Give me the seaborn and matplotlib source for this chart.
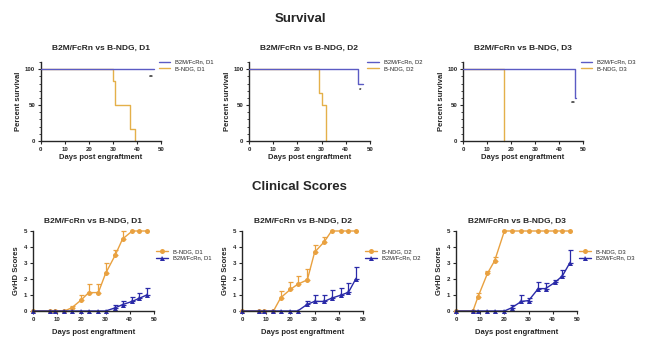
import matplotlib
matplotlib.use("Agg")
import matplotlib.pyplot as plt
from matplotlib.ticker import MultipleLocator
import seaborn as sns
import pandas as pd
import numpy as np

# ---- survival data (step curves) ----
surv_b2m_days = [[0, 47], [0, 45, 47], [0, 46.5, 47]]
surv_b2m_pct = [[100, 100], [100, 80, 80], [100, 60, 60]]
surv_ndg_days = [[0, 30, 31, 37, 39], [0, 29, 30, 32], [0, 17]]
surv_ndg_pct = [[100, 83, 50, 17, 0], [100, 67, 50, 0], [100, 0]]
sig_text = ["**", "*", "**"]
sig_pos = [(46, 88), (46, 70), (46, 52)]

# ---- clinical scores ----
days = [0, 7, 9, 13, 16, 20, 23, 27, 30, 34, 37, 41, 44, 47]
ndg_mean = [
    [0, 0, 0, 0, 0.2, 0.7, 1.15, 1.15, 2.35, 3.5, 4.5, 5, 5, 5],
    [0, 0, 0, 0, 0.83, 1.35, 1.67, 1.95, 3.67, 4.33, 5, 5, 5, 5],
    [0, 0, 0.85, 2.35, 3.15, 5, 5, 5, 5, 5, 5, 5, 5, 5],
]
ndg_upper = [
    [0, 0, 0, 0, 0.3, 1.0, 1.7, 1.7, 3.0, 3.8, 5.0, 5, 5, 5],
    [0, 0, 0, 0, 1.25, 1.8, 2.2, 2.65, 4.15, 4.6, 5, 5, 5, 5],
    [0, 0, 1.1, 2.5, 3.35, 5, 5, 5, 5, 5, 5, 5, 5, 5],
]
b2m_mean = [
    [0, 0, 0, 0, 0, 0, 0, 0, 0, 0.2, 0.4, 0.6, 0.8, 1.0],
    [0, 0, 0, 0, 0, 0, 0, 0.42, 0.6, 0.6, 0.8, 1.0, 1.17, 2.0],
    [0, 0, 0, 0, 0, 0, 0.2, 0.6, 0.65, 1.4, 1.4, 1.8, 2.2, 3.0],
]
b2m_upper = [
    [0, 0, 0, 0, 0, 0, 0, 0, 0, 0.4, 0.6, 0.85, 1.15, 1.45],
    [0, 0, 0, 0, 0, 0, 0, 0.65, 1.0, 1.0, 1.3, 1.45, 1.75, 2.75],
    [0, 0, 0, 0, 0, 0, 0.35, 1.0, 0.8, 1.8, 1.75, 1.95, 2.55, 3.8],
]
groups = ["D1", "D2", "D3"]

BLUE_S, ORANGE_S = "#5b5bc4", "#e4b04a"
BLUE, ORANGE = "#2a2aa8", "#e9a140"

sns.set_style("ticks")
plt.rcParams["font.family"] = ["Liberation Sans", "DejaVu Sans"]

W, H = 650, 354
fig = plt.figure(figsize=(W / 100, H / 100), dpi=100)


def px_axes(x0, x1, ytop, ybot):
    return fig.add_axes([x0 / W, 1 - ybot / H, (x1 - x0) / W, (ybot - ytop) / H])


def style(ax):
    sns.despine(ax=ax)
    for s in ["left", "bottom"]:
        ax.spines[s].set_linewidth(1.0)
    ax.tick_params(labelsize=4.4, width=0.8, length=2.5, pad=1.5)
    ax.tick_params(which="minor", width=0.6, length=1.5)
    for lab in ax.get_xticklabels() + ax.get_yticklabels():
        lab.set_fontweight("bold")


fig.text(300 / W, 1 - 19 / H, "Survival", ha="center", va="center",
         fontsize=9.5, fontweight="bold")
fig.text(299 / W, 1 - 187 / H, "Clinical Scores", ha="center", va="center",
         fontsize=9.5, fontweight="bold")

top_x = [(40.7, 161), (249, 370), (463, 583)]
for i, g in enumerate(groups):
    ax = px_axes(top_x[i][0], top_x[i][1], 62, 141)
    df = pd.concat([
        pd.DataFrame({"day": surv_b2m_days[i], "pct": surv_b2m_pct[i], "grp": f"B2M/FcRn, {g}"}),
        pd.DataFrame({"day": surv_ndg_days[i], "pct": surv_ndg_pct[i], "grp": f"B-NDG, {g}"}),
    ])
    sns.lineplot(data=df, x="day", y="pct", hue="grp",
                 palette=[BLUE_S, ORANGE_S], drawstyle="steps-post",
                 linewidth=1.0, ax=ax, clip_on=False)
    ax.lines[0].set_zorder(3)
    ax.set_xlim(0, 50)
    ax.set_ylim(0, 110)
    ax.set_yticks([0, 50, 100])
    ax.yaxis.set_minor_locator(MultipleLocator(10))
    ax.set_xticks(range(0, 51, 10))
    ax.set_title(f"B2M/FcRn vs B-NDG, {g}", fontsize=6, fontweight="bold", pad=9)
    ax.set_xlabel("Days post engraftment", fontsize=5.5, fontweight="bold", labelpad=2)
    ax.set_ylabel("Percent survival", fontsize=5.5, fontweight="bold", labelpad=2)
    ax.text(sig_pos[i][0], sig_pos[i][1], sig_text[i], fontsize=4.5,
            fontweight="bold", ha="center", va="center")
    style(ax)
    ax.legend(loc="upper left", bbox_to_anchor=(0.96, 1.06), frameon=False,
              fontsize=4.2, handlelength=2.0, labelspacing=0.3, borderaxespad=0)

bot_x = [(33, 154), (242, 363), (456, 577)]
for i, g in enumerate(groups):
    ax = px_axes(bot_x[i][0], bot_x[i][1], 231, 311)
    df = pd.concat([
        pd.DataFrame({"day": days, "score": ndg_mean[i], "grp": f"B-NDG, {g}"}),
        pd.DataFrame({"day": days, "score": b2m_mean[i], "grp": f"B2M/FcRn, {g}"}),
    ])
    sns.lineplot(data=df, x="day", y="score", hue="grp", style="grp",
                 palette=[ORANGE, BLUE], markers=["o", "^"], dashes=False,
                 markersize=3.6, markeredgewidth=0, linewidth=1.0, ax=ax,
                 clip_on=False)
    for mean, up, c in [(ndg_mean[i], ndg_upper[i], ORANGE), (b2m_mean[i], b2m_upper[i], BLUE)]:
        m = np.array(mean)
        e = np.array(up) - m
        mask = e > 0
        ax.errorbar(np.array(days)[mask], m[mask], yerr=[np.zeros(mask.sum()), e[mask]],
                    fmt="none", ecolor=c, elinewidth=0.9, capsize=1.8,
                    capthick=0.9, clip_on=False)
    ax.set_xlim(0, 50)
    ax.set_ylim(0, 5)
    ax.set_xticks(range(0, 51, 10))
    ax.set_yticks(range(0, 6))
    ax.set_title(f"B2M/FcRn vs B-NDG, {g}", fontsize=6, fontweight="bold", pad=6)
    ax.set_xlabel("Days post engraftment", fontsize=5.5, fontweight="bold", labelpad=5)
    ax.set_ylabel("GvHD Scores", fontsize=5.5, fontweight="bold", labelpad=3)
    style(ax)
    ax.legend(loc="upper left", bbox_to_anchor=(1.0, 0.8), frameon=False,
              fontsize=4.2, handlelength=2.0, labelspacing=0.2, borderaxespad=0)

fig.savefig("out.png", dpi=100)
